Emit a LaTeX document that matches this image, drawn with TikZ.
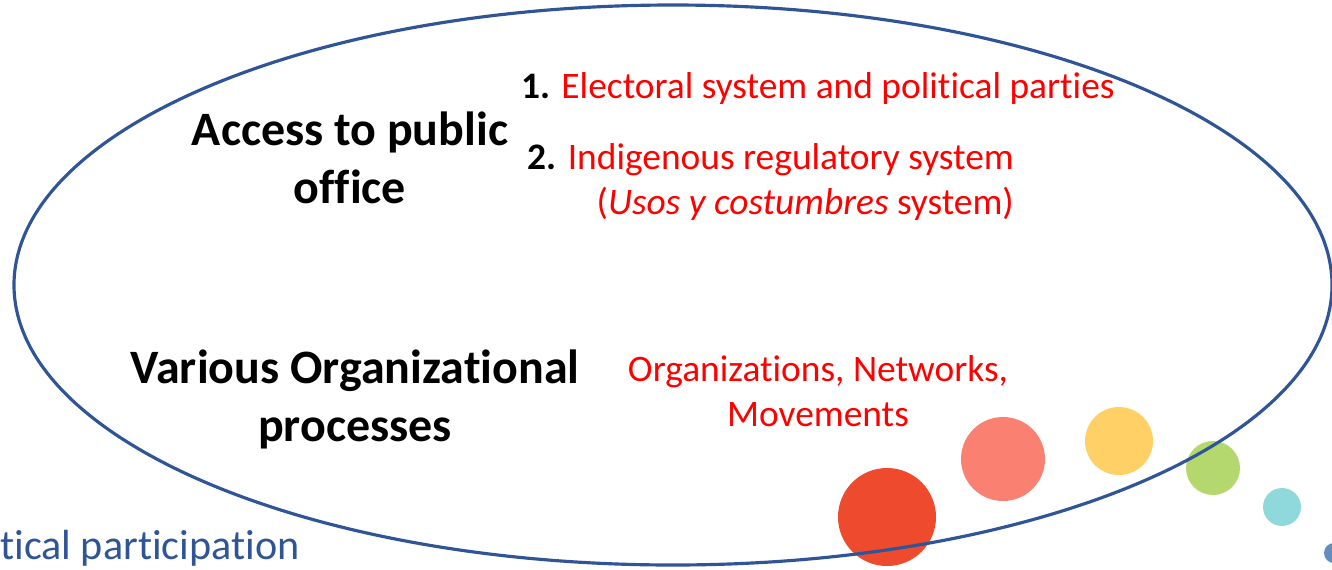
\documentclass[tikz,border=0pt]{standalone}
\usepackage{fontspec}
\setmainfont{Carlito}[Ligatures=NoCommon]
\usepackage{tikz}
\usetikzlibrary{positioning}

\definecolor{ringblue}{RGB}{47,85,151}
\definecolor{dotred}{RGB}{237,74,46}
\definecolor{dotsalmon}{RGB}{250,128,114}
\definecolor{dotyellow}{RGB}{254,208,102}
\definecolor{dotgreen}{RGB}{181,216,110}
\definecolor{dotcyan}{RGB}{143,217,220}
\definecolor{dotblue}{RGB}{100,140,190}

\begin{document}
\begin{tikzpicture}[x=0.02cm,y=-0.02cm,
    headtext/.style={align=center,font=\fontsize{27.3}{33}\selectfont\bfseries},
    itemtext/.style={text=red,font=\fontsize{21.3}{26}\selectfont}]
        \useasboundingbox (0,0) rectangle (1332,569);

        % decorative dots
        \fill[dotred] (887,517) circle [radius=49];
        \fill[dotsalmon] (1003,459) circle [radius=42];
        \fill[dotyellow] (1119,441) circle [radius=34];
        \fill[dotgreen] (1213,468) circle [radius=27];
        \fill[dotcyan] (1282,507) circle [radius=19];
        \fill[dotblue] (1334,553) circle [radius=10];

        \draw[ringblue,line width=1.8pt] (673,285) coordinate (c) ellipse [x radius=659,y radius=280];

        \node[headtext] (access) at (350,158) {Access to public\\office};
        \node[headtext] (various) at (355,399) {Various Organizational\\processes};

        \def\nr#1{{\color{black}\bfseries #1}}
        \node[itemtext,anchor=west] (electoral) at (515,89) {\nr{1.} Electoral system and political parties};
        \node[itemtext,anchor=east,align=right] (indigenous) at (1020,182) {\nr{2.} Indigenous regulatory system\\(\textit{Usos y costumbres} system)};
        \node[itemtext,align=center] (orgs) at (818,391) {Organizations, Networks,\\Movements};

        \node[text=ringblue,anchor=west,inner sep=0pt,font=\fontsize{24}{28}\selectfont] (partic) at (0,548) {tical participation};
    \end{tikzpicture}
\end{document}
